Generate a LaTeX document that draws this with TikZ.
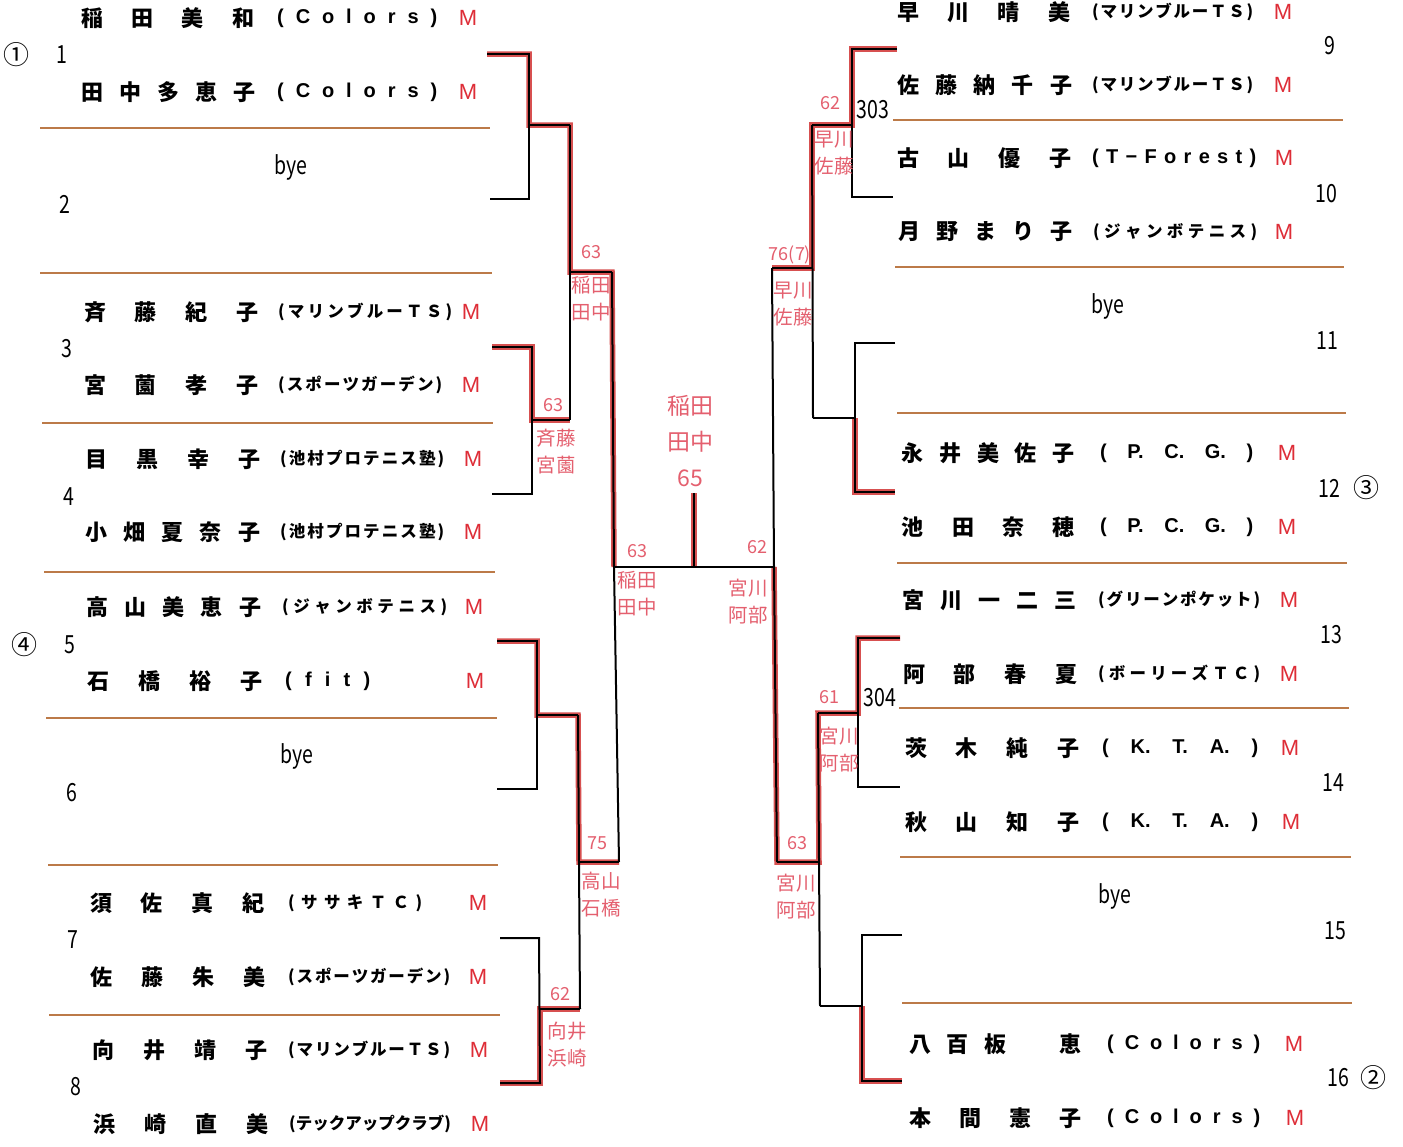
\documentclass[tikz,border=0pt]{standalone}
\usepackage{fontspec}
\setmainfont{Noto Sans CJK JP}
\newfontfamily\jp{Noto Sans CJK JP}
\newfontfamily\narrowf{Noto Sans CJK JP}[FakeStretch=0.78]
\newfontfamily\lat{Liberation Sans}
\definecolor{mred}{RGB}{222,45,55}
\definecolor{hred}{RGB}{228,95,110}
\definecolor{sepc}{RGB}{188,122,72}
\definecolor{wred}{RGB}{215,80,80}
\def\spstop{SPSTOP}
\def\spnext#1{\ifx#1\spstop\else\hfill#1\expandafter\spnext\fi}
\def\spfirst#1{#1\spnext}
\newcommand\spr[2]{\makebox[#1][s]{\spfirst#2\spstop}}
\newcommand\kong{\phantom{子}}
\def\Pd{P.}\def\Cd{C.}\def\Gd{G.}\def\Kd{K.}\def\Td{T.}\def\Ad{A.}
\tikzset{
  nm/.style={anchor=west, inner sep=0pt, font=\jp\bfseries\fontsize{22}{22}\selectfont},
  cla/.style={anchor=west, inner sep=0pt, font=\lat\bfseries\fontsize{20}{20}\selectfont},
  clk/.style={anchor=west, inner sep=0pt, font=\jp\bfseries\fontsize{16.5}{17}\selectfont},
  mk/.style={inner sep=0pt, text=mred, font=\lat\fontsize{22}{22}\selectfont},
  num/.style={inner sep=0pt, font=\narrowf\fontsize{25}{25}\selectfont},
  circ/.style={inner sep=0pt, font=\jp\fontsize{26}{26}\selectfont},
  hand/.style={inner sep=0pt, text=hred, align=center, font=\jp\fontsize{18}{26}\selectfont},
  handn/.style={hand, font=\jp\fontsize{19.5}{27}\selectfont},
  br/.style={line width=2pt, black, line join=miter},
  win/.style={line width=5.5pt, wred, line join=miter},
  sep/.style={line width=1.6pt, sepc}
}
\begin{document}
\begin{tikzpicture}[x=1pt,y=-1pt]
\useasboundingbox (0,0) rectangle (1403,1146);
\fill[white] (0,0) rectangle (1403,1146);
% separators
\foreach \y/\a/\b in {128/40/490, 273/40/492, 423/42/493, 572/44/495, 718/46/497, 865/48/498, 1015/49/500,
  120/893/1343, 267/895/1344, 413/897/1346, 563/897/1347, 708/899/1349, 857/900/1351, 1003/902/1352}
  \draw[sep] (\a,\y) -- (\b,\y);
% winning (red) paths
\draw[win] (487,54) -- (529,54) -- (529,125) -- (570,125) -- (570,272) -- (612,272) -- (614,567);
\draw[win] (492,347) -- (532,347) -- (532,420) -- (570,420);
\draw[win] (497,641) -- (537,641) -- (537,715) -- (578,715) -- (579,862) -- (619,862);
\draw[win] (500,1083) -- (540,1083) -- (540,1009) -- (580,1009);
\draw[win] (694,567) -- (694,493);
\draw[win] (897,49) -- (852,49) -- (852,125) -- (812,125) -- (812,268) -- (772,268);
\draw[win] (895,492) -- (855,492) -- (855,418);
\draw[win] (900,638) -- (858,638) -- (858,713) -- (818,713) -- (819,862) -- (777,862) -- (774,567);
\draw[win] (902,1081) -- (862,1081) -- (862,1006);
% black bracket lines
\draw[br] (487,54) -- (529,54) -- (529,199) -- (490,199);
\draw[br] (529,125) -- (570,125);
\draw[br] (492,347) -- (532,347) -- (532,494) -- (492,494);
\draw[br] (532,420) -- (570,420);
\draw[br] (570,125) -- (570,420);
\draw[br] (570,272) -- (612,272);
\draw[br] (497,641) -- (537,641) -- (537,789) -- (497,789);
\draw[br] (537,715) -- (578,715);
\draw[br] (500,938) -- (539,938) -- (540,1083) -- (500,1083);
\draw[br] (540,1009) -- (580,1009);
\draw[br] (578,715) -- (580,1009);
\draw[br] (579,862) -- (619,862);
\draw[br] (612,272) -- (614,567) -- (619,862);
\draw[br] (614,567) -- (774,567);
\draw[br] (694,567) -- (694,493);
\draw[br] (897,49) -- (852,49) -- (852,197) -- (893,197);
\draw[br] (852,125) -- (812,125);
\draw[br] (895,343) -- (855,343) -- (855,492) -- (895,492);
\draw[br] (855,418) -- (813,418);
\draw[br] (812,125) -- (813,418);
\draw[br] (812,268) -- (772,268);
\draw[br] (772,268) -- (774,567) -- (777,862);
\draw[br] (777,862) -- (819,862);
\draw[br] (900,638) -- (858,638) -- (858,787) -- (900,787);
\draw[br] (858,713) -- (818,713);
\draw[br] (818,713) -- (820,1006);
\draw[br] (902,935) -- (862,935) -- (862,1081) -- (902,1081);
\draw[br] (862,1006) -- (820,1006);
% left names
\node[nm] (n1) at (81,18) {\spr{173pt}{稲田美和}};
\node[nm] (n2) at (81,92) {\spr{174pt}{田中多恵子}};
\node[nm] (n3) at (84,312) {\spr{174pt}{斉藤紀子}};
\node[nm] (n4) at (84,385) {\spr{174pt}{宮薗孝子}};
\node[nm] (n5) at (85,459) {\spr{175pt}{目黒幸子}};
\node[nm] (n6) at (85,532) {\spr{175pt}{小畑夏奈子}};
\node[nm] (n7) at (86,607) {\spr{175pt}{高山美恵子}};
\node[nm] (n8) at (87,681) {\spr{175pt}{石橋裕子}};
\node[nm] (n9) at (90,903) {\spr{174pt}{須佐真紀}};
\node[nm] (n10) at (90,977) {\spr{175pt}{佐藤朱美}};
\node[nm] (n11) at (92,1050) {\spr{175pt}{向井靖子}};
\node[nm] (n12) at (93,1124) {\spr{175pt}{浜崎直美}};
% left clubs
\node[cla] (c1) at (277,18) {\spr{160pt}{(Colors)}};
\node[cla] (c2) at (277,92) {\spr{160pt}{(Colors)}};
\node[clk] (c3) at (278,312) {\spr{174pt}{(マリンブルーＴＳ)}};
\node[clk] (c4) at (278,385) {\spr{164pt}{(スポーツガーデン)}};
\node[clk] (c5) at (280,459) {\spr{164pt}{(池村プロテニス塾)}};
\node[clk] (c6) at (280,532) {\spr{164pt}{(池村プロテニス塾)}};
\node[clk] (c7) at (282,607) {\spr{165pt}{(ジャンボテニス)}};
\node[cla] (c8) at (285,681) {\spr{85pt}{(fit)}};
\node[clk] (c9) at (288,903) {\spr{134pt}{(ササキＴＣ)}};
\node[clk] (c10) at (288,977) {\spr{162pt}{(スポーツガーデン)}};
\node[clk] (c11) at (288,1050) {\spr{162pt}{(マリンブルーＴＳ)}};
\node[clk] (c12) at (289,1124) {\spr{158pt}{(テックアップクラブ)}};
% left M
\foreach \i/\x/\y in {1/468/18, 2/468/92, 3/471/312, 4/471/385, 5/473/459, 6/473/532, 7/474/607, 8/475/681, 9/478/903, 10/478/977, 11/479/1050, 12/480/1124}
  \node[mk] (ml\i) at (\x,\y) {M};
% right names
\node[nm] (r1) at (897,12) {\spr{173pt}{早川晴美}};
\node[nm] (r2) at (897,85) {\spr{175pt}{佐藤納千子}};
\node[nm] (r3) at (897,158) {\spr{174pt}{古山優子}};
\node[nm] (r4) at (898,232) {\spr{174pt}{月野まり子}};
\node[nm] (r5) at (901.5,453) {\spr{173pt}{永井美佐子}};
\node[nm] (r6) at (901.5,527) {\spr{173pt}{池田奈穂}};
\node[nm] (r7) at (902.5,600) {\spr{174pt}{宮川一二三}};
\node[nm] (r8) at (903,674) {\spr{174pt}{阿部春夏}};
\node[nm] (r9) at (905,748) {\spr{174pt}{茨木純子}};
\node[nm] (r10) at (905,822) {\spr{174pt}{秋山知子}};
\node[nm] (r11) at (909,1044) {\spr{172pt}{八百板\kong 恵}};
\node[nm] (r12) at (909,1118) {\spr{172pt}{本間憲子}};
% right clubs
\node[clk] (d1) at (1092,12) {\spr{161pt}{(マリンブルーＴＳ)}};
\node[clk] (d2) at (1092,85) {\spr{161pt}{(マリンブルーＴＳ)}};
\node[cla] (d3) at (1092,158) {\spr{164pt}{(T−Forest)}};
\node[clk] (d4) at (1093,232) {\spr{164pt}{(ジャンボテニス)}};
\node[cla] (d5) at (1100,453) {\spr{153pt}{(\Pd\Cd\Gd)}};
\node[cla] (d6) at (1100,527) {\spr{153pt}{(\Pd\Cd\Gd)}};
\node[clk] (d7) at (1098,600) {\spr{162pt}{(グリーンポケット)}};
\node[clk] (d8) at (1098,674) {\spr{162pt}{(ボーリーズＴＣ)}};
\node[cla] (d9) at (1102,748) {\spr{156pt}{(\Kd\Td\Ad)}};
\node[cla] (d10) at (1102,822) {\spr{156pt}{(\Kd\Td\Ad)}};
\node[cla] (d11) at (1107,1044) {\spr{153pt}{(Colors)}};
\node[cla] (d12) at (1107,1118) {\spr{153pt}{(Colors)}};
% right M
\foreach \i/\x/\y in {1/1283/12, 2/1283/85, 3/1284/158, 4/1284/232, 5/1287/453, 6/1287/527, 7/1289/600, 8/1289/674, 9/1290/748, 10/1291/822, 11/1294/1044, 12/1295/1118}
  \node[mk] (mr\i) at (\x,\y) {M};
% draw numbers
\foreach \t/\x/\y in {1/62/55, 2/65/204, 3/67/349, 4/69/497, 5/70/645, 6/72/793, 7/73/940, 8/76/1087,
  9/1330/46, 10/1326/194, 11/1327/341, 12/1329/488, 13/1331/635, 14/1333/783, 15/1335/931, 16/1338/1078}
  \node[num] (k\t) at (\x,\y) {\t};
\node[circ] (s1) at (17,55) {①};
\node[circ] (s4) at (24,645) {④};
\node[circ] (s3) at (1366,488) {③};
\node[circ] (s2) at (1373,1078) {②};
% bye
\node[num] (bye1) at (291,167) {bye};
\node[num] (bye2) at (297,756) {bye};
\node[num] (bye3) at (1108,306) {bye};
\node[num] (bye4) at (1115,896) {bye};
% court numbers
\node[num] (ct303) at (873,110) {303};
\node[num] (ct304) at (880,698) {304};
% handwritten scores
\node[hand] (h1) at (591,252) {63};
\node[handn] (h1n) at (591,299) {稲田\\田中};
\node[hand] (h2) at (553,405) {63};
\node[handn] (h2n) at (556,452) {斉藤\\宮薗};
\node[hand] (h3) at (637,551) {63};
\node[handn] (h3n) at (637,594) {稲田\\田中};
\node[hand] (h4) at (597,843) {75};
\node[handn] (h4n) at (601,895) {高山\\石橋};
\node[hand] (h5) at (560,994) {62};
\node[handn] (h5n) at (567,1045) {向井\\浜崎};
\node[hand, font=\jp\fontsize{23}{36}\selectfont] (hf) at (690,441) {稲田\\田中\\65};
\node[hand] (h6) at (830,103) {62};
\node[handn] (h6n) at (834,153) {早川\\佐藤};
\node[hand] (h7) at (790,255) {76(7)};
\node[handn] (h7n) at (793,304) {早川\\佐藤};
\node[hand] (h8) at (757,547) {62};
\node[handn] (h8n) at (748,602) {宮川\\阿部};
\node[hand] (h9) at (829,697) {61};
\node[handn] (h9n) at (839,750) {宮川\\阿部};
\node[hand] (h10) at (797,843) {63};
\node[handn] (h10n) at (796,897) {宮川\\阿部};
\end{tikzpicture}
\end{document}
